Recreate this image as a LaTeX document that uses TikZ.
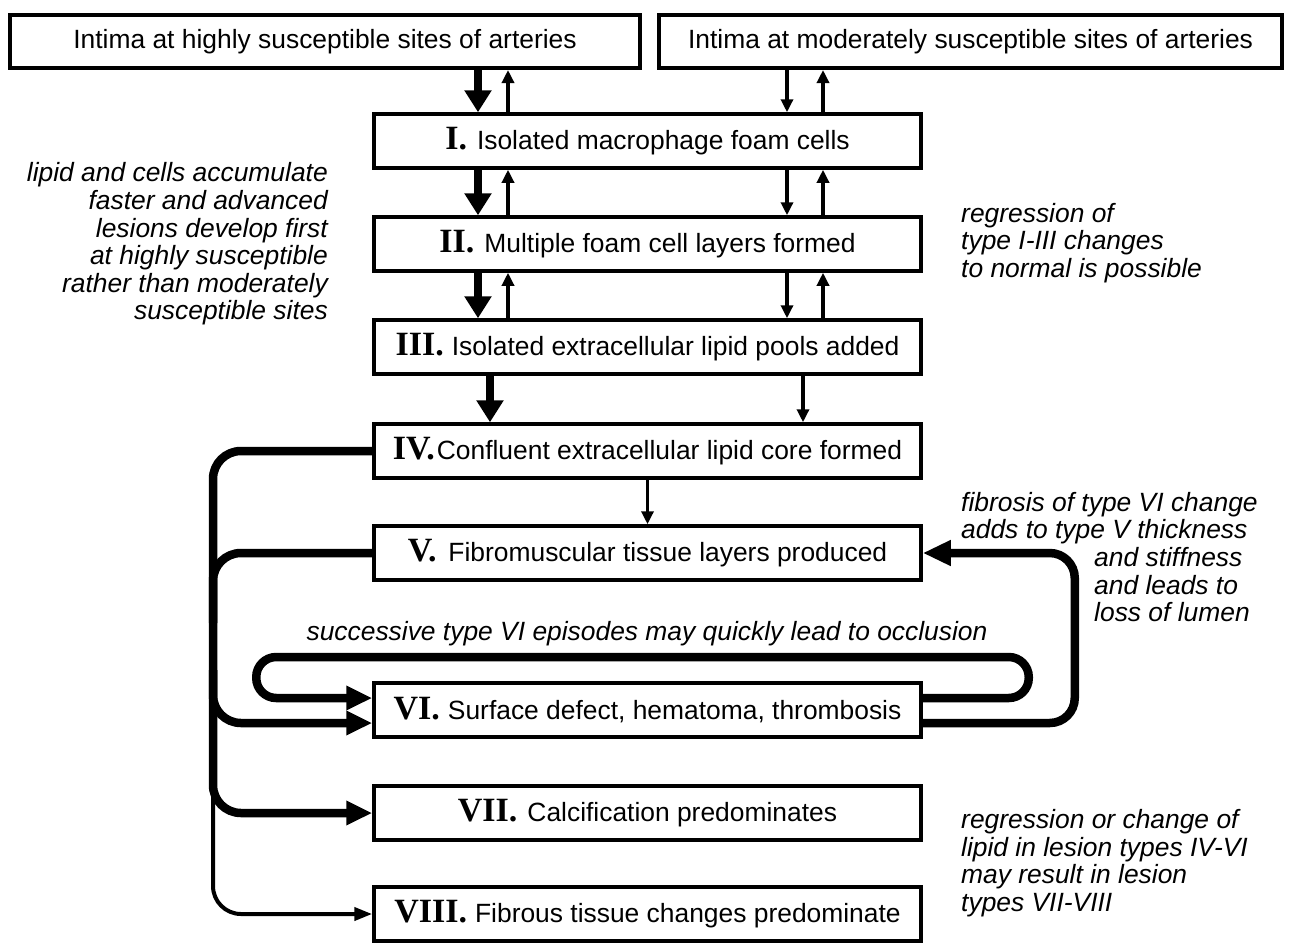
\documentclass[tikz,border=0pt]{standalone}
\usepackage{fontspec}
\setmainfont{Liberation Sans}
\newfontfamily\numfont{Liberation Serif}
\usetikzlibrary{arrows.meta}

% Roman stage numerals in a heavy serif
\newcommand\stagenum[1]{{\numfont\bfseries\fontsize{34}{34}\selectfont #1}}

\begin{document}
\begin{tikzpicture}[x=1pt,y=-1pt,
  box/.style={draw, line width=3.5pt, minimum width=547pt, minimum height=54pt,
    inner sep=0pt, font=\fontsize{26.4}{30}\selectfont},
  topbox/.style={box, line width=4pt, minimum height=53pt},
  note/.style={inner sep=0pt, font=\fontsize{26.4}{27.6}\selectfont\itshape},
  fat/.style={line width=8pt, -{Triangle[length=22pt,width=26pt]}},
  slim/.style={line width=3.5pt, -{Triangle[length=13pt,width=12pt]}},
  loopline/.style={line width=8.5pt, rounded corners=28pt},
  fathead/.style={-{Triangle[length=26pt,width=23pt]}},
  thinloop/.style={line width=4pt, rounded corners=28pt, -{Triangle[length=18pt,width=13pt]}}
]
\useasboundingbox (0,0) rectangle (1295,943);

% source boxes
\node[topbox, minimum width=630pt] (hi) at (325,41.5) {Intima at highly susceptible sites of arteries};
\node[topbox, minimum width=623pt] (mod) at (970.5,41.5) {Intima at moderately susceptible sites of arteries};

% lesion stages
\node[box] (s1) at (647.5,141) {\stagenum{I.}\hspace{10pt}Isolated macrophage foam cells};
\node[box] (s2) at (647.5,244) {\stagenum{II.}\hspace{10pt}Multiple foam cell layers formed};
\node[box] (s3) at (647.5,347) {\stagenum{III.}\hspace{8pt}Isolated extracellular lipid pools added};
\node[box] (s4) at (647.5,451) {\stagenum{IV.}\hspace{2pt}Confluent extracellular lipid core formed};
\node[box] (s5) at (647.5,553) {\stagenum{V.}\hspace{12pt}Fibromuscular tissue layers produced};
\node[box] (s6) at (647.5,710) {\stagenum{VI.}\hspace{8pt}Surface defect, hematoma, thrombosis};
\node[box] (s7) at (647.5,813) {\stagenum{VII.}\hspace{10pt}Calcification predominates};
\node[box] (s8) at (647.5,914) {\stagenum{VIII.}\hspace{8pt}Fibrous tissue changes predominate};

% columns of the vertical arrows
\coordinate (xa) at (478,0);
\coordinate (xb) at (508,0);
\coordinate (xc) at (787,0);
\coordinate (xd) at (823,0);
\coordinate (xe) at (490,0);
\coordinate (xf) at (803,0);
\coordinate (xl) at (213,0);

% progression and regression between the early stages
\foreach \u/\v in {hi/s1, s1/s2, s2/s3} {
  \draw[fat]  (\u.south -| xa) -- (\v.north -| xa);
  \draw[slim] (\v.north -| xb) -- (\u.south -| xb);
}
\draw[slim] (mod.south -| xc) -- (s1.north -| xc);
\draw[slim] (s1.north -| xd) -- (mod.south -| xd);
\foreach \u/\v in {s1/s2, s2/s3} {
  \draw[slim] (\u.south -| xc) -- (\v.north -| xc);
  \draw[slim] (\v.north -| xd) -- (\u.south -| xd);
}
\draw[fat]  (s3.south -| xe) -- (s4.north -| xe);
\draw[slim] (s3.south -| xf) -- (s4.north -| xf);
\draw[slim] (s4.south) -- (s5.north);

% left-hand pathways from types IV and V
\draw[loopline, fathead] (s4.west) -| (s7.west -| xl) -- (s7.west);
\draw[loopline] (s5.west) -| ([yshift=-70pt]s5.west -| xl);
\draw[loopline, fathead] ([yshift=40pt]s6.west -| xl) |- ([yshift=-13pt]s6.west);
\draw[thinloop] ([yshift=40pt]s7.west -| xl) |- (s8.west);

% repeated type VI episodes
\draw[loopline, rounded corners=20pt, fathead]
  ([yshift=12pt]s6.east) -- ++(106,0) |- ([xshift=-116pt,yshift=53pt]s6.west)
  |- ([yshift=12pt]s6.west);

% fibrosis of type VI back to type V
\draw[loopline, rounded corners=25pt, -{Triangle[length=28pt,width=24pt]}]
  ([yshift=-13pt]s6.east) -| ([xshift=152pt]s5.east) -- (s5.east);

% annotations
\node[note, align=right, anchor=east] (n1) at (328,244)
  {lipid and cells accumulate\\faster and advanced\\lesions develop first\\at highly susceptible\\rather than moderately\\susceptible sites};
\node[note, align=left, anchor=west] (n2) at (961,243)
  {regression of\\type I-III changes\\to normal is possible};
\node[note, align=left, anchor=west] (n3) at (961,557)
  {fibrosis of type VI change\\adds to type V thickness\\\hspace*{133pt}and stiffness\\\hspace*{133pt}and leads to\\\hspace*{133pt}loss of lumen};
\node[note] (n4) at (647,634) {successive type VI episodes may quickly lead to occlusion};
\node[note, align=left, anchor=west] (n5) at (961,863)
  {regression or change of\\lipid in lesion types IV-VI\\may result in lesion\\types VII-VIII};
\end{tikzpicture}
\end{document}
